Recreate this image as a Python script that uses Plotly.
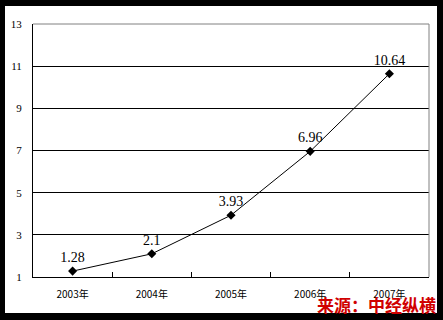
import plotly.graph_objects as go

years = ["2003年", "2004年", "2005年", "2006年", "2007年"]
values = [1.28, 2.1, 3.93, 6.96, 10.64]
labels = ["1.28", "2.1", "3.93", "6.96", "10.64"]
y_ticks = [1, 3, 5, 7, 9, 11, 13]
source_text = "来源：中经纵横"

W, H = 443, 320
L, R, T, B = 33, 14, 24, 43
pw, ph = W - L - R, H - T - B

def px(x):
    return (x - L) / pw

def py(y):
    return (H - B - y) / ph

fig = go.Figure()
fig.add_trace(go.Scatter(
    x=years, y=values, mode="lines+markers+text",
    line=dict(color="black", width=1),
    marker=dict(symbol="diamond", size=7, color="black"),
    text=labels, textposition="top center",
    textfont=dict(family="Liberation Serif", size=14, color="black"),
    cliponaxis=False, showlegend=False,
))

fig.update_layout(
    width=W, height=H,
    margin=dict(l=L, r=R, t=T, b=B),
    paper_bgcolor="black", plot_bgcolor="white",
    xaxis=dict(
        type="category", tickson="boundaries", ticks="inside", ticklen=5,
        tickcolor="black", showline=True, linecolor="black", linewidth=1,
        showgrid=False, range=[-0.5, 4.5],
        tickfont=dict(family="Noto Sans CJK SC", size=10, color="black"),
        ticklabelstandoff=8,
    ),
    yaxis=dict(
        range=[1, 13], tickvals=y_ticks, ticks="", showline=True,
        linecolor="black", linewidth=1, showgrid=True, gridcolor="black",
        gridwidth=1, zeroline=False,
        tickfont=dict(family="Liberation Serif", size=11, color="black"),
        ticklabelstandoff=8,
    ),
    shapes=[
        dict(type="rect", xref="paper", yref="paper", x0=px(5), x1=px(437),
             y0=py(313), y1=py(6), fillcolor="white", line=dict(width=0),
             layer="below"),
        dict(type="line", xref="paper", yref="paper", x0=0, x1=1, y0=1, y1=1,
             line=dict(color="#808080", width=1), layer="above"),
        dict(type="line", xref="paper", yref="paper", x0=1, x1=1, y0=0, y1=1,
             line=dict(color="#808080", width=1), layer="above"),
    ],
    annotations=[
        dict(text="<b>" + source_text + "</b>", xref="paper", yref="paper",
             x=px(438), y=py(304), xanchor="right", yanchor="middle",
             showarrow=False,
             font=dict(family="Noto Sans CJK SC", size=17, color="#d00000")),
    ],
)

fig.write_html("out.html")
